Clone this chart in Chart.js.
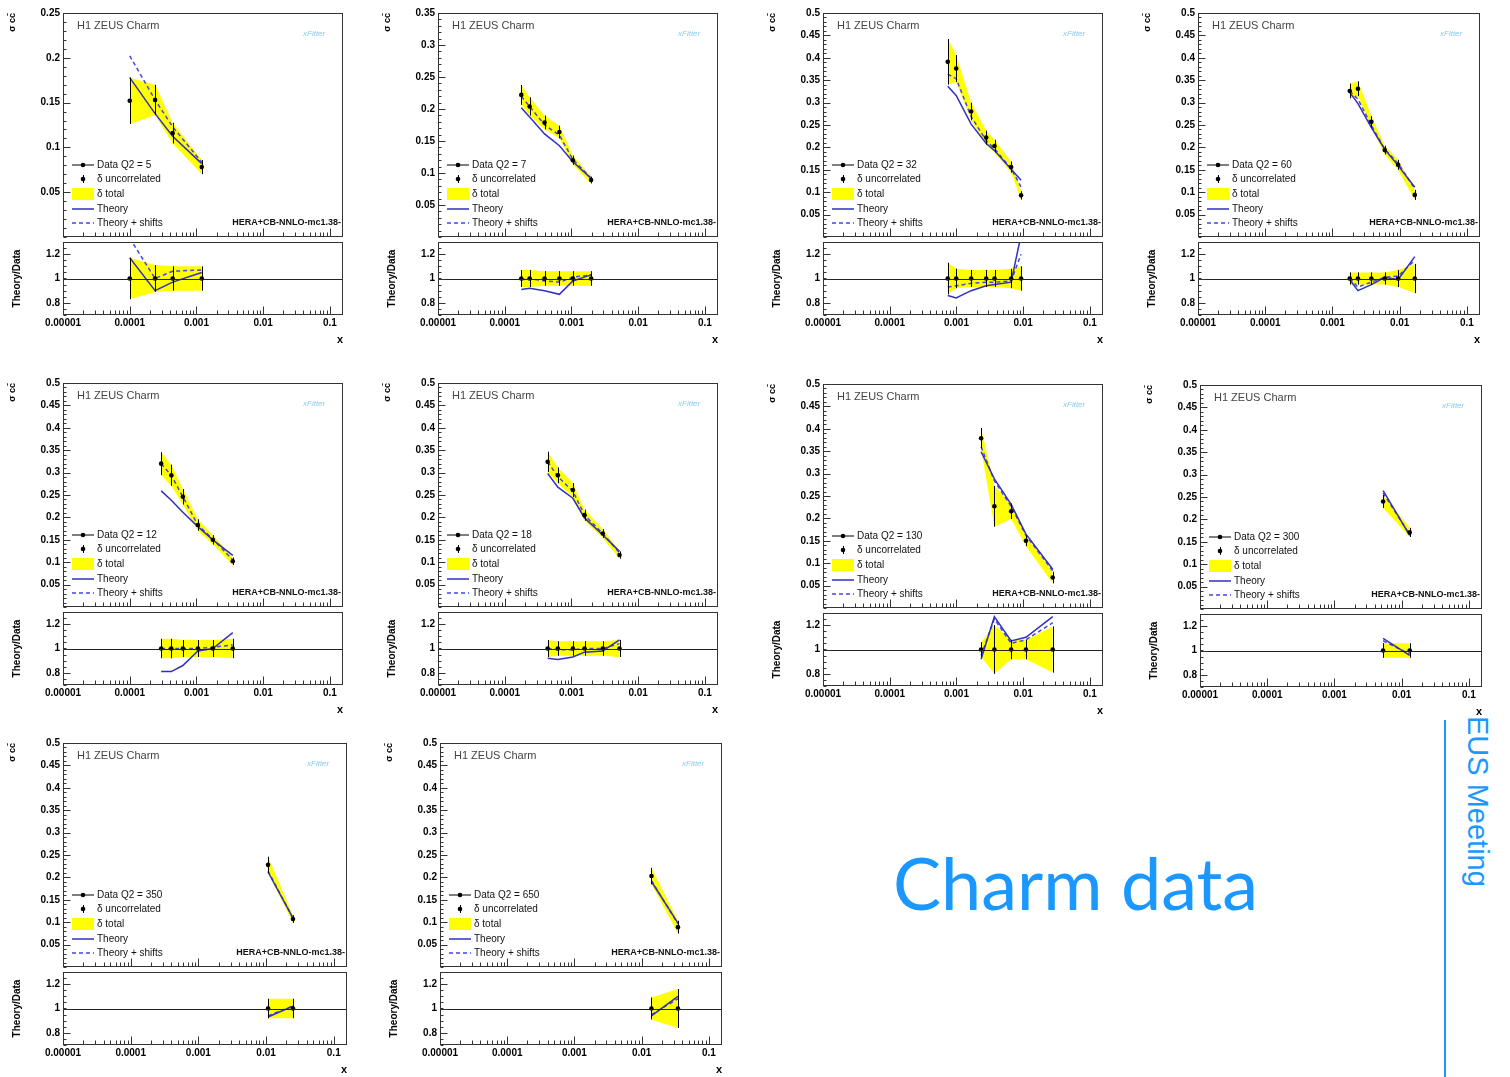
<!DOCTYPE html>
<html>
<head>
<meta charset="utf-8">
<script src="https://cdn.jsdelivr.net/npm/chart.js@4.4.0/dist/chart.umd.min.js"></script>
<style>
  body { margin: 0; background: #fff; width: 1510px; height: 1077px; position: relative; overflow: hidden; }
  canvas { position: absolute; }
  #charm { position: absolute; left: 893px; top: 846px; font-family: Lato, "Open Sans", sans-serif; font-size: 72px; line-height: 1; color: #1a98ff; white-space: nowrap; }
  #linea { position: absolute; left: 1444px; top: 720px; width: 2px; height: 357px; background: #1a98ff; }
  #meeting { position: absolute; left: 1463px; top: 716px; font-family: "Liberation Sans", Arial, sans-serif; font-size: 29px; line-height: 1; color: #1a98ff; writing-mode: vertical-rl; white-space: nowrap; }
</style>
</head>
<body>
<div id="charm">Charm data</div>
<div id="linea"></div>
<div id="meeting">EUS Meeting</div>
<script>
// ---- datos ----
const xTickLabels = ['0.00001', '0.0001', '0.001', '0.01', '0.1'];
const ratioTicks = [0.8, 1, 1.2];
const yTicks025 = [0.05, 0.1, 0.15, 0.2, 0.25];
const yTicks035 = [0.05, 0.1, 0.15, 0.2, 0.25, 0.3, 0.35];
const yTicks05 = [0.05, 0.1, 0.15, 0.2, 0.25, 0.3, 0.35, 0.4, 0.45, 0.5];
const legendLabels = ['Data Q2 = ', 'δ uncorrelated', 'δ total', 'Theory', 'Theory + shifts'];
const q2Values = [5, 7, 32, 60, 12, 18, 130, 300, 350, 650];

// Q2 = 5
const xQ5 = [1.0e-4, 2.4e-4, 4.4e-4, 1.2e-3];
const dataQ5 = [0.152, 0.153, 0.116, 0.078];
const totQ5 = [0.17, 0.11, 0.10, 0.10];
const thQ5 = [1.17, 0.90, 0.97, 1.05];
const shQ5 = [1.33, 1.00, 1.06, 1.07];

// Q2 = 7
const xQ7 = [1.77e-4, 2.36e-4, 3.95e-4, 6.6e-4, 1.05e-3, 1.97e-3];
const dataQ7 = [0.222, 0.204, 0.179, 0.164, 0.120, 0.089];
const totQ7 = [0.07, 0.07, 0.06, 0.06, 0.06, 0.06];
const thQ7 = [0.91, 0.92, 0.90, 0.87, 0.98, 1.03];
const shQ7 = [0.99, 1.00, 0.98, 0.97, 1.01, 1.03];

// Q2 = 32
const xQ32 = [7.4e-4, 9.9e-4, 1.66e-3, 2.79e-3, 3.72e-3, 6.6e-3, 9.3e-3];
const dataQ32 = [0.391, 0.376, 0.280, 0.222, 0.203, 0.156, 0.093];
const totQ32 = [0.13, 0.08, 0.07, 0.07, 0.07, 0.08, 0.10];
const thQ32 = [0.86, 0.84, 0.90, 0.94, 0.95, 0.97, 1.36];
const shQ32 = [0.93, 0.94, 0.96, 0.97, 0.97, 0.98, 1.20];

// Q2 = 60
const xQ60 = [1.81e-3, 2.4e-3, 3.8e-3, 6.0e-3, 9.5e-3, 1.68e-2];
const dataQ60 = [0.326, 0.331, 0.257, 0.194, 0.161, 0.094];
const totQ60 = [0.05, 0.05, 0.05, 0.05, 0.07, 0.12];
const thQ60 = [0.99, 0.90, 0.95, 1.01, 0.99, 1.18];
const shQ60 = [1.00, 0.93, 0.97, 1.01, 1.02, 1.15];

// Q2 = 12
const xQ12 = [2.96e-4, 4.2e-4, 6.25e-4, 1.05e-3, 1.76e-3, 3.5e-3];
const dataQ12 = [0.320, 0.294, 0.246, 0.183, 0.150, 0.102];
const totQ12 = [0.08, 0.08, 0.07, 0.07, 0.07, 0.08];
const thQ12 = [0.81, 0.81, 0.86, 0.98, 1.00, 1.13];
const shQ12 = [1.00, 1.00, 1.00, 1.00, 1.01, 1.03];

// Q2 = 18
const xQ18 = [4.4e-4, 6.25e-4, 1.05e-3, 1.57e-3, 2.95e-3, 5.25e-3];
const dataQ18 = [0.324, 0.294, 0.261, 0.205, 0.164, 0.116];
const totQ18 = [0.07, 0.06, 0.06, 0.06, 0.06, 0.07];
const thQ18 = [0.92, 0.91, 0.93, 0.97, 0.98, 1.07];
const shQ18 = [1.00, 0.99, 0.99, 1.00, 1.00, 1.04];

// Q2 = 130
const xQ130 = [2.34e-3, 3.7e-3, 6.6e-3, 1.1e-2, 2.77e-2];
const dataQ130 = [0.379, 0.227, 0.216, 0.150, 0.068];
const totQ130 = [0.06, 0.20, 0.08, 0.08, 0.19];
const thQ130 = [0.92, 1.27, 1.07, 1.10, 1.27];
const shQ130 = [0.95, 1.25, 1.05, 1.08, 1.22];

// Q2 = 300
const xQ300 = [5.3e-3, 1.32e-2];
const dataQ300 = [0.240, 0.171];
const totQ300 = [0.06, 0.06];
const thQ300 = [1.10, 0.96];
const shQ300 = [1.08, 0.97];

// Q2 = 350
const xQ350 = [1.07e-2, 2.5e-2];
const dataQ350 = [0.228, 0.107];
const totQ350 = [0.08, 0.08];
const thQ350 = [0.93, 1.02];
const shQ350 = [0.94, 1.02];

// Q2 = 650
const xQ650 = [1.4e-2, 3.47e-2];
const dataQ650 = [0.203, 0.089];
const totQ650 = [0.09, 0.16];
const thQ650 = [0.94, 1.10];
const shQ650 = [0.95, 1.08];

// ---- geometria ----
const XMIN = 1e-5, XMAX = 0.157;
const AXW = 60, PAD = 8, TOPH = 226, GAP = 3, RH = 74, XAH = 32;
const FUENTE = '"Liberation Sans", Arial, sans-serif';
const AMARILLO = '#ffff00', AZUL = '#3030c0', AZUL2 = '#4646e6';
const fuenteTicks = { family: FUENTE, size: 10, weight: 'bold' };

// barras de error en los puntos
Chart.register({
  id: 'barrasError',
  afterDatasetsDraw(chart) {
    const ctx = chart.ctx, sx = chart.scales.x, sy = chart.scales.y, a = chart.chartArea;
    ctx.save();
    ctx.beginPath();
    ctx.rect(a.left, a.top, a.right - a.left, a.bottom - a.top);
    ctx.clip();
    ctx.strokeStyle = '#000';
    ctx.lineWidth = 1;
    chart.data.datasets.forEach(ds => {
      if (!ds.errs) return;
      ds.data.forEach((p, i) => {
        const px = Math.round(sx.getPixelForValue(p.x)) + 0.5;
        ctx.beginPath();
        ctx.moveTo(px, sy.getPixelForValue(p.y - ds.errs[i]));
        ctx.lineTo(px, sy.getPixelForValue(p.y + ds.errs[i]));
        ctx.stroke();
      });
    });
    ctx.restore();
  }
});

function linea(ctx, x1, y1, x2, y2) {
  ctx.beginPath();
  ctx.moveTo(x1, y1);
  ctx.lineTo(x2, y2);
  ctx.stroke();
}

// marco y marcas hacia dentro, estilo ROOT
function dibujarMarco(chart, pasoMenor) {
  const ctx = chart.ctx, a = chart.chartArea, sx = chart.scales.x, sy = chart.scales.y;
  ctx.save();
  ctx.strokeStyle = '#333';
  ctx.lineWidth = 1;
  const l = Math.round(a.left) + 0.5, r = Math.round(a.right) - 0.5;
  const t = Math.round(a.top) + 0.5, b = Math.round(a.bottom) - 0.5;
  ctx.strokeRect(l, t, r - l, b - t);
  // eje x
  for (let e = -5; e <= -1; e++) {
    for (let m = 1; m <= 9; m++) {
      const v = m * Math.pow(10, e);
      if (v > XMAX) continue;
      const px = Math.round(sx.getPixelForValue(v)) + 0.5;
      linea(ctx, px, b, px, b - (m === 1 ? 8 : 4));
    }
  }
  // eje y
  for (let v = sy.min; v <= sy.max + 1e-9; v += pasoMenor) {
    const py = Math.round(sy.getPixelForValue(v)) + 0.5;
    linea(ctx, l, py, l + 3, py);
  }
  sy.ticks.forEach(tk => {
    const py = Math.round(sy.getPixelForValue(tk.value)) + 0.5;
    linea(ctx, l, py, l + 7, py);
  });
  ctx.restore();
}

function crearPanel(idx, L, T, W, xs, datos, tot, th, sh, yTicks) {
  const pts = vals => xs.map((x, i) => ({ x: x, y: vals[i] }));
  const q2 = q2Values[idx];

  // ---- grafico superior ----
  const c1 = document.createElement('canvas');
  c1.width = AXW + W + PAD;
  c1.height = TOPH + 2 * PAD;
  c1.style.left = (L - AXW) + 'px';
  c1.style.top = (T - PAD) + 'px';
  document.body.appendChild(c1);

  new Chart(c1, {
    type: 'line',
    data: {
      datasets: [
        { label: legendLabels[0] + q2, data: pts(datos), showLine: false, pointRadius: 2.3,
          pointBackgroundColor: '#000', pointBorderWidth: 0, errs: datos.map((d, i) => d * tot[i]) },
        { label: legendLabels[3], data: pts(datos.map((d, i) => d * th[i])), borderColor: AZUL,
          borderWidth: 1.5, pointRadius: 0, fill: false },
        { label: legendLabels[4], data: pts(datos.map((d, i) => d * sh[i])), borderColor: AZUL2,
          borderDash: [4, 3], borderWidth: 1.5, pointRadius: 0, fill: false },
        { label: legendLabels[2], data: pts(datos.map((d, i) => d * (1 + tot[i]))), borderWidth: 0,
          pointRadius: 0, fill: '+1', backgroundColor: AMARILLO },
        { label: 'lower', data: pts(datos.map((d, i) => d * (1 - tot[i]))), borderWidth: 0,
          pointRadius: 0, fill: false }
      ]
    },
    options: {
      responsive: false,
      animation: false,
      layout: { padding: { left: 0, right: PAD, top: PAD, bottom: PAD } },
      plugins: { legend: { display: false }, tooltip: { enabled: false } },
      scales: {
        x: { type: 'logarithmic', min: XMIN, max: XMAX, display: false },
        y: {
          min: 0, max: yTicks[yTicks.length - 1],
          afterBuildTicks: s => { s.ticks = yTicks.map(v => ({ value: v })); },
          afterFit: s => { s.width = AXW; },
          grid: { display: false, drawTicks: false },
          border: { display: false },
          ticks: { autoSkip: false, padding: 3, color: '#000', font: fuenteTicks,
                   callback: v => String(v) },
          title: { display: true, text: 'σ cc̄', align: 'end', color: '#000',
                   padding: { top: 4, bottom: 0 }, font: { family: FUENTE, size: 9, weight: 'bold' } }
        }
      }
    },
    plugins: [{
      id: 'decorSup',
      afterDraw(chart) {
        dibujarMarco(chart, 0.01);
        const ctx = chart.ctx, a = chart.chartArea;
        ctx.save();
        ctx.textBaseline = 'middle';
        // titulo
        ctx.fillStyle = '#444';
        ctx.font = '11px ' + FUENTE;
        ctx.fillText('H1 ZEUS Charm', a.left + 14, a.top + 13);
        ctx.fillStyle = '#8ccbee';
        ctx.font = 'italic 8px ' + FUENTE;
        ctx.fillText('xFitter', a.right - 40, a.top + 21);
        // leyenda
        const x0 = a.left + 9, x1 = a.left + 31, tx = a.left + 34;
        const ys = [72, 58, 43, 28, 14].map(d => a.bottom - d);
        ctx.strokeStyle = '#000';
        ctx.lineWidth = 1;
        linea(ctx, x0, ys[0], x1, ys[0]);
        ctx.fillStyle = '#000';
        [ys[0], ys[1]].forEach(y => {
          ctx.beginPath();
          ctx.arc((x0 + x1) / 2, y, 2.3, 0, Math.PI * 2);
          ctx.fill();
        });
        linea(ctx, (x0 + x1) / 2 + 0.5, ys[1] - 4, (x0 + x1) / 2 + 0.5, ys[1] + 4);
        ctx.fillStyle = AMARILLO;
        ctx.fillRect(x0, ys[2] - 6, x1 - x0, 12);
        ctx.strokeStyle = AZUL;
        ctx.lineWidth = 1.5;
        linea(ctx, x0, ys[3], x1, ys[3]);
        ctx.strokeStyle = AZUL2;
        ctx.setLineDash([4, 3]);
        linea(ctx, x0, ys[4], x1, ys[4]);
        ctx.setLineDash([]);
        ctx.fillStyle = '#111';
        ctx.font = '10px ' + FUENTE;
        ctx.fillText(legendLabels[0] + q2, tx, ys[0]);
        for (let k = 1; k < 5; k++) ctx.fillText(legendLabels[k], tx, ys[k]);
        ctx.font = 'bold 9px ' + FUENTE;
        ctx.textAlign = 'right';
        ctx.fillText('HERA+CB-NNLO-mc1.38-', a.right - 2, ys[4]);
        ctx.restore();
      }
    }]
  });

  // ---- grafico Theory/Data ----
  const RT = T + TOPH + GAP;
  const c2 = document.createElement('canvas');
  c2.width = AXW + W + PAD;
  c2.height = PAD + RH + XAH;
  c2.style.left = (L - AXW) + 'px';
  c2.style.top = (RT - PAD) + 'px';
  document.body.appendChild(c2);

  new Chart(c2, {
    type: 'line',
    data: {
      datasets: [
        { label: 'data', data: pts(xs.map(() => 1)), showLine: false, pointRadius: 2.3,
          pointBackgroundColor: '#000', pointBorderWidth: 0, errs: tot },
        { label: 'theory', data: pts(th), borderColor: AZUL, borderWidth: 1.5, pointRadius: 0, fill: false },
        { label: 'shifts', data: pts(sh), borderColor: AZUL2, borderDash: [4, 3], borderWidth: 1.5,
          pointRadius: 0, fill: false },
        { label: 'up', data: pts(tot.map(e => 1 + e)), borderWidth: 0, pointRadius: 0, fill: '+1',
          backgroundColor: AMARILLO },
        { label: 'down', data: pts(tot.map(e => 1 - e)), borderWidth: 0, pointRadius: 0, fill: false }
      ]
    },
    options: {
      responsive: false,
      animation: false,
      layout: { padding: { left: 0, right: PAD, top: PAD, bottom: 0 } },
      plugins: { legend: { display: false }, tooltip: { enabled: false } },
      scales: {
        x: {
          type: 'logarithmic', min: XMIN, max: XMAX,
          afterFit: s => { s.height = XAH; },
          grid: { display: false, drawTicks: false },
          border: { display: false },
          ticks: {
            autoSkip: false, maxRotation: 0, minRotation: 0, padding: 2, color: '#000',
            font: fuenteTicks,
            callback: v => {
              const e = Math.log10(v);
              return Math.abs(e - Math.round(e)) < 1e-6 ? (xTickLabels[Math.round(e) + 5] || '') : '';
            }
          },
          title: { display: true, text: 'x', align: 'end', color: '#000', padding: 0,
                   font: { family: FUENTE, size: 11, weight: 'bold' } }
        },
        y: {
          min: 0.7, max: 1.3,
          afterBuildTicks: s => { s.ticks = ratioTicks.map(v => ({ value: v })); },
          afterFit: s => { s.width = AXW; },
          grid: { display: false, drawTicks: false },
          border: { display: false },
          ticks: { autoSkip: false, padding: 3, color: '#000', font: fuenteTicks,
                   callback: v => String(v) },
          title: { display: true, text: 'Theory/Data', color: '#000',
                   padding: { top: 8, bottom: 0 }, font: { family: FUENTE, size: 10, weight: 'bold' } }
        }
      }
    },
    plugins: [{
      id: 'decorRatio',
      afterDatasetsDraw(chart) {
        const ctx = chart.ctx, a = chart.chartArea;
        const py = Math.round(chart.scales.y.getPixelForValue(1)) + 0.5;
        ctx.save();
        ctx.strokeStyle = '#222';
        ctx.lineWidth = 1;
        linea(ctx, a.left, py, a.right, py);
        ctx.restore();
      },
      afterDraw(chart) {
        dibujarMarco(chart, 0.05);
      }
    }]
  });
}

crearPanel(0, 63, 12, 280, xQ5, dataQ5, totQ5, thQ5, shQ5, yTicks025);
crearPanel(1, 438, 12, 280, xQ7, dataQ7, totQ7, thQ7, shQ7, yTicks035);
crearPanel(2, 823, 12, 280, xQ32, dataQ32, totQ32, thQ32, shQ32, yTicks05);
crearPanel(3, 1198, 12, 282, xQ60, dataQ60, totQ60, thQ60, shQ60, yTicks05);
crearPanel(4, 63, 382, 280, xQ12, dataQ12, totQ12, thQ12, shQ12, yTicks05);
crearPanel(5, 438, 382, 280, xQ18, dataQ18, totQ18, thQ18, shQ18, yTicks05);
crearPanel(6, 823, 383, 280, xQ130, dataQ130, totQ130, thQ130, shQ130, yTicks05);
crearPanel(7, 1200, 384, 282, xQ300, dataQ300, totQ300, thQ300, shQ300, yTicks05);
crearPanel(8, 63, 742, 284, xQ350, dataQ350, totQ350, thQ350, shQ350, yTicks05);
crearPanel(9, 440, 742, 282, xQ650, dataQ650, totQ650, thQ650, shQ650, yTicks05);
</script>
</body>
</html>
